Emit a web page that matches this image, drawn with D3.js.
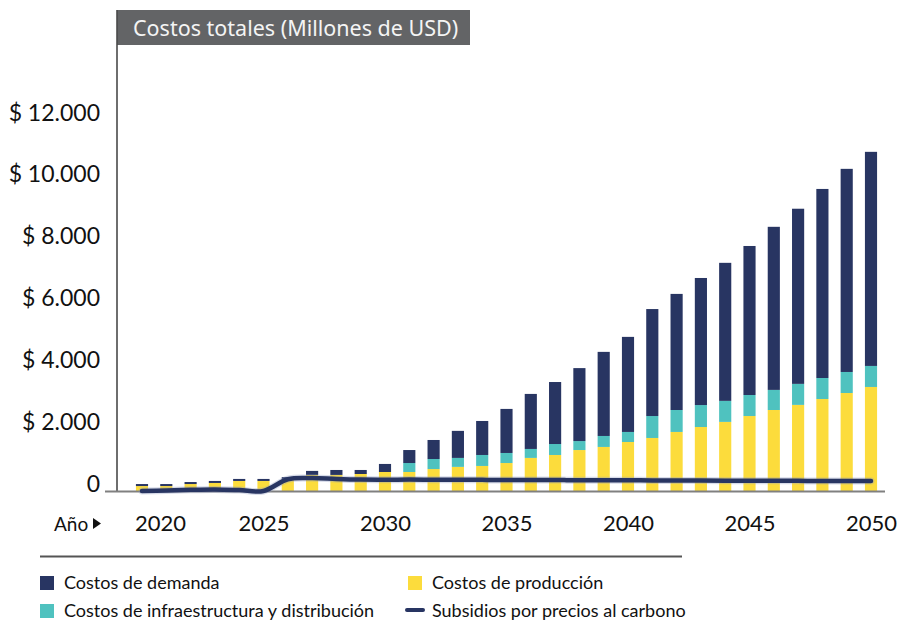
<!DOCTYPE html>
<html>
<head>
<meta charset="utf-8">
<script src="https://cdn.jsdelivr.net/npm/d3@7"></script>
<style>
  html, body { margin: 0; padding: 0; background: #ffffff; }
  svg { display: block; font-family: "Lato", "Noto Sans", sans-serif; }
</style>
</head>
<body>
<svg id="chart" width="899" height="622"></svg>
<script>
// Años del horizonte de análisis
const years = [2020, 2021, 2022, 2023, 2024, 2025, 2026, 2027, 2028, 2029, 2030,
  2031, 2032, 2033, 2034, 2035, 2036, 2037, 2038, 2039, 2040,
  2041, 2042, 2043, 2044, 2045, 2046, 2047, 2048, 2049, 2050];

// Costos de producción (Millones de USD)
const produccion = [160, 160, 225, 260, 325, 325, 390, 520, 520, 550, 615,
  615, 710, 780, 810, 905, 1070, 1165, 1325, 1425, 1585,
  1715, 1910, 2070, 2235, 2425, 2620, 2785, 2975, 3170, 3365];

// Costos de infraestructura y distribución (Millones de USD)
const infraestructura = [0, 0, 0, 0, 0, 0, 0, 0, 0, 0, 0,
  290, 325, 290, 355, 325, 290, 355, 290, 355, 325,
  710, 710, 710, 680, 680, 650, 680, 680, 680, 680];

// Costos de demanda (Millones de USD)
const demanda = [65, 65, 65, 65, 65, 65, 60, 130, 160, 130, 260,
  420, 615, 875, 1100, 1425, 1780, 2005, 2360, 2720, 3075,
  3460, 3755, 4110, 4465, 4820, 5275, 5665, 6115, 6570, 6925];

// Subsidios por precios al carbono (Millones de USD)
const subsidios = [0, 20, 40, 50, 30, 0, 380, 420, 390, 370, 365,
  370, 365, 363, 360, 358, 355, 353, 350, 348, 345,
  343, 340, 338, 335, 333, 330, 328, 325, 323, 320];

// Marcas del eje
const yTicks = [0, 2000, 4000, 6000, 8000, 10000, 12000];
const xTicks = [2020, 2025, 2030, 2035, 2040, 2045, 2050];

const title = "Costos totales (Millones de USD)";
const legendItems = [
  { label: "Costos de demanda", key: "demanda", type: "rect" },
  { label: "Costos de producción", key: "produccion", type: "rect" },
  { label: "Costos de infraestructura y distribución", key: "infraestructura", type: "rect" },
  { label: "Subsidios por precios al carbono", key: "subsidios", type: "line" }
];

const colors = {
  produccion: "#fcdc3c",
  infraestructura: "#4fc2bf",
  demanda: "#283562",
  subsidios: "#283562"
};

const svg = d3.select("#chart");

const axisX = 117, zeroY = 491;

const x = d3.scalePoint().domain(years).range([142, 871]);
const barW = x.step() * 0.5;
const y = d3.scaleLinear().domain([0, 12000]).range([zeroY, 120]);

// Tabla para el apilado
const rows = years.map((yr, i) => ({
  year: yr,
  produccion: produccion[i],
  infraestructura: infraestructura[i],
  demanda: demanda[i]
}));
const stacked = d3.stack().keys(["produccion", "infraestructura", "demanda"])(rows);

// Recuadro del título
const titleG = svg.append("g");
titleG.append("rect")
  .attr("x", axisX).attr("y", 10)
  .attr("width", 353).attr("height", 35)
  .attr("fill", "#636466");
titleG.append("text")
  .attr("x", axisX + 16).attr("y", 36)
  .attr("fill", "#f4f4f4")
  .attr("font-family", "'Noto Sans', 'Open Sans', sans-serif")
  .attr("font-size", 21.5)
  .text(title);

// Barras apiladas
svg.append("g").selectAll("g")
  .data(stacked)
  .join("g")
  .attr("fill", d => colors[d.key])
  .selectAll("rect")
  .data(d => d)
  .join("rect")
  .attr("x", d => x(d.data.year) - barW / 2)
  .attr("width", barW)
  .attr("y", d => y(d[1]))
  .attr("height", d => Math.max(0, y(d[0]) - y(d[1])));

// Eje vertical
svg.append("line")
  .attr("x1", axisX).attr("x2", axisX)
  .attr("y1", 10).attr("y2", zeroY + 1)
  .attr("stroke", "#4a4a4a").attr("stroke-width", 1.6);

// Línea base
svg.append("line")
  .attr("x1", 105).attr("x2", 885)
  .attr("y1", zeroY + 0.5).attr("y2", zeroY + 0.5)
  .attr("stroke", "#808080").attr("stroke-width", 2);

// Etiquetas del eje Y
const locale = d3.formatLocale({ decimal: ",", thousands: ".", grouping: [3], currency: ["$ ", ""] });
const money = locale.format("$,.0f");
const yAxis = d3.axisLeft(y).tickValues(yTicks).tickSize(0)
  .tickFormat(v => v === 0 ? "0" : money(v));
const yG = svg.append("g").attr("transform", `translate(${axisX},0)`).call(yAxis);
yG.select(".domain").remove();
yG.selectAll("text")
  .attr("x", -17).attr("dy", 0)
  .attr("font-size", 23)
  .attr("font-family", "Lato, 'Noto Sans', sans-serif")
  .attr("fill", "#111");

// Etiquetas del eje X
const xAxis = d3.axisBottom(x).tickValues(xTicks).tickSize(0).tickFormat(d3.format("d"));
const xG = svg.append("g").attr("transform", `translate(0,${zeroY})`).call(xAxis);
xG.select(".domain").remove();
xG.selectAll("text")
  .attr("y", 40).attr("dy", 0)
  .attr("dx", d => d === 2020 ? 18 : 0)
  .attr("font-size", 22)
  .attr("font-family", "Lato, 'Noto Sans', sans-serif")
  .attr("fill", "#111");

// Rótulo "Año"
svg.append("text")
  .attr("x", 54).attr("y", 531)
  .attr("font-size", 19)
  .attr("fill", "#111")
  .text("Año");
svg.append("path")
  .attr("d", "M93,518 L101,523.5 L93,529 Z")
  .attr("fill", "#111");

// Línea de subsidios
const line = d3.line()
  .x((d, i) => x(years[i]))
  .y(d => y(d))
  .curve(d3.curveCardinal.tension(0));
svg.append("path")
  .datum(subsidios)
  .attr("d", line)
  .attr("fill", "none")
  .attr("stroke", "#8f9bc0")
  .attr("stroke-opacity", 0.35)
  .attr("stroke-width", 7)
  .attr("stroke-linecap", "round");
svg.append("path")
  .datum(subsidios)
  .attr("d", line)
  .attr("fill", "none")
  .attr("stroke", colors.subsidios)
  .attr("stroke-width", 4.5)
  .attr("stroke-linecap", "round")
  .attr("stroke-linejoin", "round");

// Leyenda
svg.append("line")
  .attr("x1", 40).attr("x2", 682)
  .attr("y1", 556.5).attr("y2", 556.5)
  .attr("stroke", "#555").attr("stroke-width", 2.2);

const legCols = [40, 408], legRows = [576, 604];
legendItems.forEach((item, i) => {
  const lx = legCols[i % 2], ly = legRows[Math.floor(i / 2)];
  const g = svg.append("g");
  if (item.type === "rect") {
    g.append("rect").attr("x", lx).attr("y", ly)
      .attr("width", 14).attr("height", 14)
      .attr("fill", colors[item.key]);
  } else {
    g.append("line")
      .attr("x1", lx - 1).attr("x2", lx + 15)
      .attr("y1", ly + 6).attr("y2", ly + 6)
      .attr("stroke", colors[item.key])
      .attr("stroke-width", 4)
      .attr("stroke-linecap", "round");
  }
  g.append("text")
    .attr("x", lx + 24).attr("y", ly + 13)
    .attr("font-size", 18)
    .attr("fill", "#111")
    .text(item.label);
});
</script>
</body>
</html>
